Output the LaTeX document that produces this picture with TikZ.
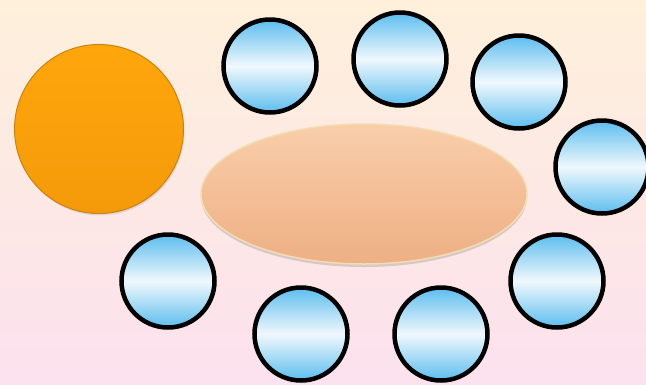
\documentclass[tikz,border=0pt]{standalone}
\usepackage{xcolor}
\usetikzlibrary{shapes.geometric, shadows}

\definecolor{bgtop}{HTML}{FEF0DB}
\definecolor{bgbot}{HTML}{FCE1EE}
\definecolor{skyblue}{HTML}{5CBDEF}
\definecolor{iceblue}{HTML}{F0F8FC}
\definecolor{orbtop}{HTML}{FFA60C}
\definecolor{orbbot}{HTML}{F49A0A}
\definecolor{orbrim}{HTML}{C98210}
\definecolor{hubtop}{HTML}{F9CEAA}
\definecolor{hubbot}{HTML}{EEAF84}
\definecolor{hubrim}{HTML}{F3DDB4}

\tikzset{
  bubble/.style={circle, draw=black, line width=4.5pt, inner sep=0pt, minimum size=93pt,
    shading=axis, top color=skyblue, bottom color=skyblue, middle color=iceblue},
  orb/.style={circle, draw=orbrim, line width=1pt, inner sep=0pt, minimum size=169pt,
    top color=orbtop, bottom color=orbbot,
    drop shadow={opacity=0.2, shadow xshift=1pt, shadow yshift=-2pt}},
  hub/.style={ellipse, draw=hubrim, line width=1.5pt, inner sep=0pt,
    minimum width=326pt, minimum height=140pt,
    top color=hubtop, bottom color=hubbot,
    drop shadow={opacity=0.3, shadow xshift=0pt, shadow yshift=-3pt}}
}

\begin{document}
\begin{tikzpicture}[x=1pt, y=-1pt]
  % Background
  \useasboundingbox (0,0) rectangle (646,384);
  \shade[top color=bgtop, bottom color=bgbot] (0,0) rectangle (646,384);

  % Big shapes
  \node[orb] (sun) at (99,129) {};
  \node[hub] (core) at (364,194) {};

  % --- Ring of bubbles ---
  \node[bubble] (b1) at (270,66) {};
  \node[bubble] (b2) at (400,59) {};
  \node[bubble] (b3) at (519,82) {};
  \node[bubble] (b4) at (602,167) {};
  \node[bubble] (b5) at (557,281) {};
  \node[bubble] (b6) at (441,334) {};
  \node[bubble] (b7) at (301,334) {};
  \node[bubble] (b8) at (168,281) {};
\end{tikzpicture}
\end{document}
